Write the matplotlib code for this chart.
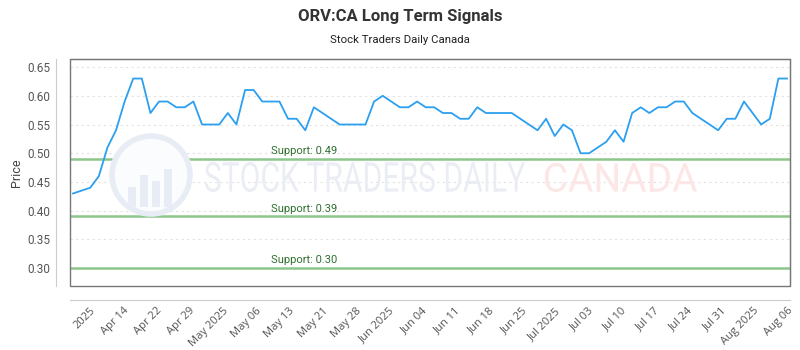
import numpy as np
import matplotlib
matplotlib.use('Agg')
import matplotlib.pyplot as plt
from matplotlib.patches import Rectangle, Circle, PathPatch
from matplotlib.textpath import TextPath
from matplotlib.font_manager import FontProperties
from matplotlib.transforms import Affine2D

plt.rcParams['font.family'] = ['Roboto', 'DejaVu Sans']

# closing prices, one per trading day
prices = [0.43, 0.435, 0.44, 0.46, 0.51, 0.54, 0.59, 0.63, 0.63, 0.57,
          0.59, 0.59, 0.58, 0.58, 0.59, 0.55, 0.55, 0.55, 0.57, 0.55,
          0.61, 0.61, 0.59, 0.59, 0.59, 0.56, 0.56, 0.54, 0.58, 0.57,
          0.56, 0.55, 0.55, 0.55, 0.55, 0.59, 0.60, 0.59, 0.58, 0.58,
          0.59, 0.58, 0.58, 0.57, 0.57, 0.56, 0.56, 0.58, 0.57, 0.57,
          0.57, 0.57, 0.56, 0.55, 0.54, 0.56, 0.53, 0.55, 0.54, 0.50,
          0.50, 0.51, 0.52, 0.54, 0.52, 0.57, 0.58, 0.57, 0.58, 0.58,
          0.59, 0.59, 0.57, 0.56, 0.55, 0.54, 0.56, 0.56, 0.59, 0.57,
          0.55, 0.56, 0.63, 0.63]

tick_labels = ['2025', 'Apr 14', 'Apr 22', 'Apr 29', 'May 2025', 'May 06',
               'May 13', 'May 21', 'May 28', 'Jun 2025', 'Jun 04', 'Jun 11',
               'Jun 18', 'Jun 25', 'Jul 2025', 'Jul 03', 'Jul 10', 'Jul 17',
               'Jul 24', 'Jul 31', 'Aug 2025', 'Aug 06']

supports = [0.49, 0.39, 0.30]

x = np.arange(len(prices))

fig = plt.figure(figsize=(8, 3.5), dpi=100)
ax = fig.add_axes([70 / 800, 64 / 350, 720 / 800, 227 / 350])
ax.set_facecolor('none')

# spines first: moving them resets the tick labels
for side in ['left', 'bottom']:
    ax.spines[side].set_position(('outward', 10))
    ax.spines[side].set_color('#cccccc')
for side in ['top', 'right']:
    ax.spines[side].set_color('#777777')
ax.add_patch(Rectangle((0, 0), 1, 1, transform=ax.transAxes, fill=False,
                       edgecolor='#777777', lw=1, clip_on=False, zorder=5))


def watermark(text, box, color):
    # squeeze a text path into a pixel box (left, top, right, bottom)
    path = TextPath((0, 0), text, size=40, prop=FontProperties(family='Roboto'))
    ext = path.get_extents()
    left, top, right, bottom = box
    sx = (right - left) / ext.width
    sy = (bottom - top) / ext.height
    tr = Affine2D().translate(-ext.x0, -ext.y0).scale(sx, sy).translate(left, 350 - bottom)
    fig.patches.append(PathPatch(path, transform=tr, facecolor=color,
                                 edgecolor='none', zorder=0))


fig.patches.append(Circle((151, 175), 39, transform=Affine2D(),
                          facecolor='#fbfcfe', edgecolor='#e8edf5', lw=4, zorder=0))
for bx, bh in zip([128, 140, 152, 164], [20, 32, 26, 38]):
    fig.patches.append(Rectangle((bx, 350 - 207), 8, bh, transform=Affine2D(),
                                 facecolor='#e8edf5', edgecolor='none', zorder=0))
watermark('STOCK TRADERS DAILY', (205, 162, 525, 192), '#eaeef4')
watermark('CANADA', (545, 163, 697, 192), '#fde6e6')

ax.plot(x, prices, color='#2b9ff0', lw=1.3, zorder=3)

for s in supports:
    ax.axhline(s, color='#8cc68c', lw=1.8, zorder=2)
    ax.annotate(f'Support: {s:.2f}', xy=(0.279, s), xycoords=ax.get_yaxis_transform(),
                xytext=(0, 2), textcoords='offset points', fontsize=8,
                color='#2f6f2f', va='bottom', ha='left', zorder=4)

ax.set_xlim(-0.35, len(prices) - 1 + 0.35)
ax.set_ylim(0.269, 0.664)
ax.set_yticks([0.30, 0.35, 0.40, 0.45, 0.50, 0.55, 0.60, 0.65])
ax.yaxis.set_major_formatter(matplotlib.ticker.FormatStrFormatter('%.2f'))
ax.tick_params(axis='both', length=0, colors='#555555')
ax.tick_params(axis='y', labelsize=8.5, pad=4)
ax.tick_params(axis='x', labelsize=8, pad=4)
ax.set_xticks(np.linspace(2, len(prices) - 1, len(tick_labels)))
ax.set_xticklabels(tick_labels)
for lab in ax.get_xticklabels():
    lab.set_rotation(45)
    lab.set_ha('right')
    lab.set_rotation_mode('anchor')
    lab.set_family(['Open Sans', 'DejaVu Sans'])
ax.grid(axis='y', color='#e2e2e2', linestyle=(0, (2, 3)), lw=0.8, zorder=1)
ax.set_ylabel('Price', fontsize=9, color='#444444', labelpad=3)

fig.text(0.5, 1 - 16 / 350, 'ORV:CA Long Term Signals', ha='center', va='center',
         fontsize=12, fontweight='bold', color='#333333')
fig.text(0.5, 1 - 40 / 350, 'Stock Traders Daily Canada', ha='center', va='center',
         fontsize=8.2, color='#222222')

fig.savefig('out.png', dpi=100)
